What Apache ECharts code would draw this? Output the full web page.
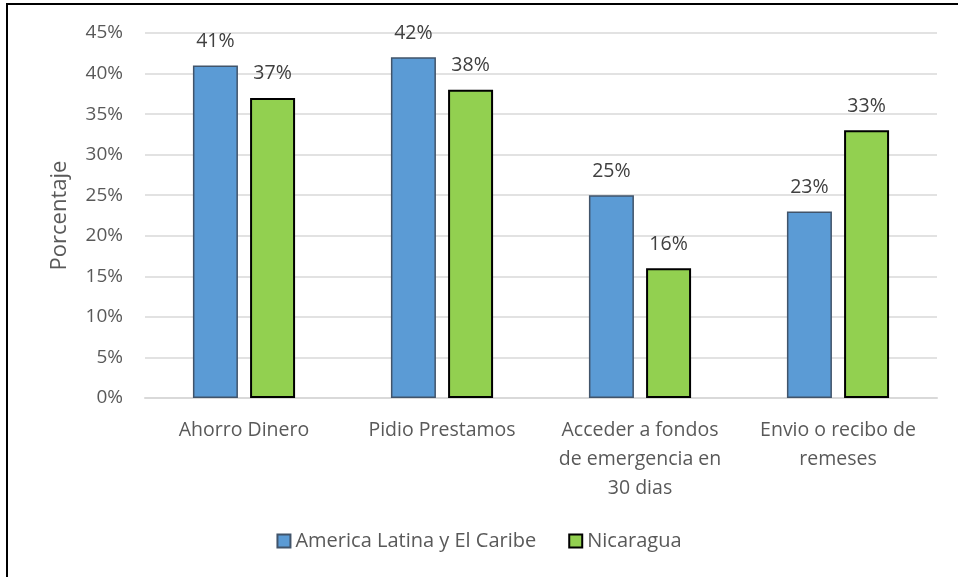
<!DOCTYPE html>
<html>
<head>
<meta charset="utf-8">
<script src="https://cdn.jsdelivr.net/npm/echarts@6/dist/echarts.min.js"></script>
<style>
html, body { margin: 0; padding: 0; background: #fff; }
#frame {
  position: absolute; left: 6px; top: 3px; width: 952px; height: 574px;
  border-left: 2px solid #000; border-top: 2px solid #000; box-sizing: border-box;
}
#chart { position: absolute; left: 0; top: 0; width: 958px; height: 577px; }
</style>
</head>
<body>
<div id="frame"></div>
<div id="chart"></div>
<script>
const categories = ['Ahorro Dinero', 'Pidio Prestamos', 'Acceder a fondos\nde emergencia en\n30 dias', 'Envio o recibo de\nremeses'];
const latam = [41, 42, 25, 23];
const nicaragua = [37, 38, 16, 33];
const seriesNames = ['America Latina y El Caribe', 'Nicaragua'];

const font = 'Open Sans';
const chart = echarts.init(document.getElementById('chart'));

chart.setOption({
  animation: false,
  grid: { left: 145, right: 21, top: 33, bottom: 179 },
  legend: {
    bottom: 21,
    left: 'center',
    itemWidth: 13,
    itemHeight: 13,
    itemGap: 32,
    icon: 'rect',
    textStyle: { fontFamily: font, fontSize: 20, color: '#595959' },
    data: seriesNames
  },
  xAxis: {
    type: 'category',
    data: categories,
    axisLine: { lineStyle: { color: '#d9d9d9', width: 2 } },
    axisTick: { show: false },
    axisLabel: { interval: 0, hideOverlap: false, fontFamily: font, fontSize: 19.5, color: '#595959', lineHeight: 29, margin: 18 }
  },
  yAxis: {
    type: 'value',
    min: 0, max: 45, interval: 5,
    name: 'Porcentaje',
    nameLocation: 'middle',
    nameGap: 74,
    nameTextStyle: { fontFamily: font, fontSize: 22, color: '#595959' },
    axisLabel: { formatter: '{value}%', fontFamily: font, fontSize: 19, color: '#595959', margin: 22 },
    splitLine: { lineStyle: { color: '#d9d9d9', width: 1.5 } },
    axisLine: { show: false },
    axisTick: { show: false }
  },
  series: [
    {
      name: seriesNames[0],
      type: 'bar',
      data: latam,
      barWidth: 45,
      barGap: '27%',
      itemStyle: { color: '#5b9bd5', borderColor: '#41546a', borderWidth: 1.5 },
      label: { show: true, position: 'top', distance: 14, formatter: '{c}%', fontFamily: font, fontSize: 19.5, color: '#404040' }
    },
    {
      name: seriesNames[1],
      type: 'bar',
      data: nicaragua,
      barWidth: 45,
      itemStyle: { color: '#92d050', borderColor: '#000', borderWidth: 2 },
      label: { show: true, position: 'top', distance: 14, formatter: '{c}%', fontFamily: font, fontSize: 19.5, color: '#404040' }
    }
  ]
});
</script>
</body>
</html>
